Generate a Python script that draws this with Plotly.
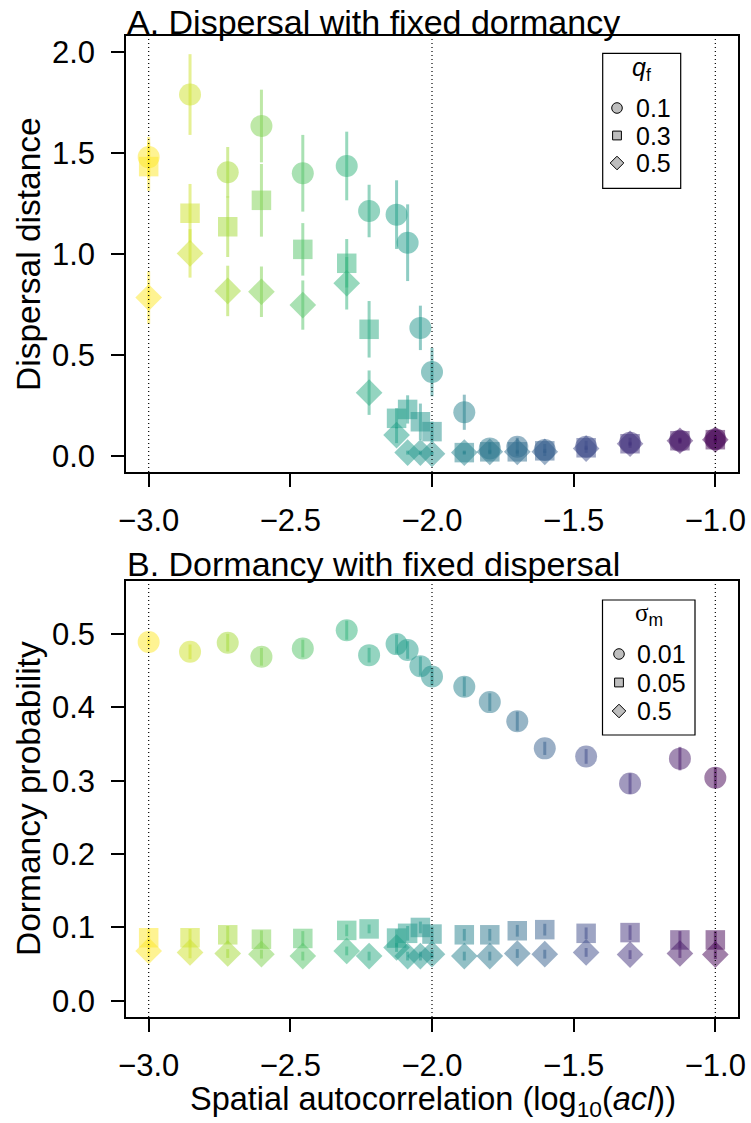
import plotly.graph_objects as go
from plotly.colors import sample_colorscale

# ---------------- data ----------------
log_acl = [-3.0, -2.854, -2.721, -2.602, -2.456, -2.301, -2.222, -2.125, -2.086, -2.041,
           -2.0, -1.886, -1.796, -1.699, -1.602, -1.456, -1.301, -1.125, -1.0]

# Panel A: dispersal distance, fixed dormancy q_f
disp_q01 = [1.48, 1.79, 1.405, 1.634, 1.40, 1.436, 1.213, 1.195, 1.056, 0.634,
            0.415, 0.216, 0.037, 0.045, 0.029, 0.045, 0.065, 0.075, 0.082]
disp_q01_err = [0.10, 0.20, 0.125, 0.18, 0.19, 0.17, 0.13, 0.17, 0.19, 0.11,
                0.12, 0.087, 0.03, 0.045, 0.03, 0.03, 0.025, 0.015, 0.02]
disp_q03 = [1.433, 1.202, 1.135, 1.266, 1.023, 0.954, 0.627, 0.186, 0.23, 0.169,
            0.12, 0.016, 0.02, 0.02, 0.025, 0.04, 0.06, 0.075, 0.08]
disp_q03_err = [0.12, 0.145, 0.15, 0.18, 0.13, 0.12, 0.14, 0.05, 0.07, 0.09,
                0.05, 0.01, 0.01, 0.01, 0.01, 0.01, 0.01, 0.01, 0.01]
disp_q05 = [0.784, 1.003, 0.817, 0.813, 0.747, 0.855, 0.313, 0.103, 0.016, 0.016,
            0.01, 0.016, 0.02, 0.02, 0.02, 0.036, 0.06, 0.075, 0.08]
disp_q05_err = [0.13, 0.12, 0.125, 0.125, 0.122, 0.13, 0.11, 0.04, 0.01, 0.01,
                0.01, 0.005, 0.005, 0.005, 0.005, 0.005, 0.005, 0.005, 0.005]

# Panel B: dormancy probability, fixed dispersal sigma_m
dorm_s001 = [0.489, 0.4755, 0.488, 0.4687, 0.480, 0.505, 0.471, 0.486, 0.478, 0.456,
             0.442, 0.428, 0.407, 0.381, 0.344, 0.333, 0.296, 0.330, 0.304]
dorm_s001_err = [0.006, 0.010, 0.012, 0.012, 0.012, 0.013, 0.010, 0.013, 0.012, 0.013,
                 0.012, 0.013, 0.012, 0.013, 0.009, 0.010, 0.014, 0.016, 0.014]
dorm_s005 = [0.086, 0.086, 0.090, 0.084, 0.085, 0.096, 0.098, 0.0855, 0.092, 0.100,
             0.091, 0.090, 0.090, 0.0955, 0.097, 0.092, 0.093, 0.083, 0.083]
dorm_s005_err = [0.012, 0.012, 0.012, 0.012, 0.010, 0.008, 0.006, 0.012, 0.010, 0.008,
                 0.010, 0.008, 0.008, 0.008, 0.008, 0.008, 0.010, 0.012, 0.012]
dorm_s05 = [0.068, 0.066, 0.0645, 0.0636, 0.061, 0.068, 0.061, 0.0727, 0.061, 0.061,
            0.0636, 0.061, 0.061, 0.0645, 0.0636, 0.066, 0.063, 0.0645, 0.063]
dorm_s05_err = [0.008, 0.008, 0.006, 0.006, 0.006, 0.006, 0.006, 0.006, 0.006, 0.006,
                0.006, 0.006, 0.006, 0.006, 0.006, 0.006, 0.006, 0.006, 0.006]

legend_a_labels = ["0.1", "0.3", "0.5"]
legend_b_labels = ["0.01", "0.05", "0.5"]
x_ticks = [-3.0, -2.5, -2.0, -1.5, -1.0]
ya_ticks = [0.0, 0.5, 1.0, 1.5, 2.0]
yb_ticks = [0.0, 0.1, 0.2, 0.3, 0.4, 0.5]
ref_lines = [-3.0, -2.0, -1.0]

# ---------------- style ----------------
W, H = 751, 1123
FONT = "Liberation Sans, Arial, Helvetica, sans-serif"
ALPHA = 0.5
BOX_L, BOX_R = 126, 738
A_TOP, A_BOT = 36, 472
B_TOP, B_BOT = 581, 1017


def px_x(p):
    return p / W


def px_y(p):
    return 1 - p / H


def colour(x):
    t = (x + 3.0) / 2.0
    c = sample_colorscale("Viridis", [1 - t], colortype="tuple")[0]
    return "rgba(%d,%d,%d,%.2f)" % (round(c[0] * 255), round(c[1] * 255), round(c[2] * 255), ALPHA)


fig = go.Figure()

SYMS = [("circle", 22), ("square", 19.5), ("diamond", 20.5)]


def add_series(xs, ys, errs, sym, size, xa, ya):
    for x, y, e in zip(xs, ys, errs):
        c = colour(x)
        fig.add_trace(go.Scatter(
            x=[x], y=[y], mode="markers", xaxis=xa, yaxis=ya, showlegend=False,
            marker=dict(symbol=sym, size=size, color=c, line=dict(width=0)),
            error_y=dict(type="data", array=[e], visible=True, color=c, thickness=3, width=0),
            hoverinfo="skip"))


for (sym, size), ys, es in zip(SYMS, [disp_q01, disp_q03, disp_q05],
                               [disp_q01_err, disp_q03_err, disp_q05_err]):
    add_series(log_acl, ys, es, sym, size, "x", "y")
for (sym, size), ys, es in zip(SYMS, [dorm_s001, dorm_s005, dorm_s05],
                               [dorm_s001_err, dorm_s005_err, dorm_s05_err]):
    add_series(log_acl, ys, es, sym, size, "x2", "y2")

# ---------------- legends (boxes, glyph shapes, labels) ----------------
legends = [
    dict(box=(602.7, 53.3, 680.7, 188.3), title="<i>q</i><sub>f</sub>", tx=641.7, ty=69,
         sx=617, lx=634, rows=[108, 135.5, 163], labels=legend_a_labels),
    dict(box=(602.5, 600, 695, 735),
         title="<span style=\"font-family:'Liberation Serif', serif\">σ</span><sub>m</sub>",
         tx=648.5, ty=614, sx=619, lx=635, rows=[654, 682.5, 711], labels=legend_b_labels),
]
annotations = []
shapes = []
GLYPH = dict(fillcolor="#BEBEBE", line=dict(color="black", width=1), layer="above",
             xref="paper", yref="paper")
for lg in legends:
    x0, y0, x1, y1 = lg["box"]
    shapes.append(dict(type="rect", xref="paper", yref="paper", x0=px_x(x0), x1=px_x(x1),
                       y0=px_y(y1), y1=px_y(y0), line=dict(color="black", width=1.2),
                       fillcolor="white", layer="below"))
    annotations.append(dict(text=lg["title"], x=px_x(lg["tx"]), y=px_y(lg["ty"]),
                            xref="paper", yref="paper", xanchor="center", yanchor="middle",
                            showarrow=False, font=dict(family=FONT, size=25, color="black")))
    cx = lg["sx"]
    for (sym, _), ry, lab in zip(SYMS, lg["rows"], lg["labels"]):
        if sym == "circle":
            r = 5.3
            shapes.append(dict(type="circle", x0=px_x(cx - r), x1=px_x(cx + r),
                               y0=px_y(ry + r), y1=px_y(ry - r), **GLYPH))
        elif sym == "square":
            r = 4.4
            shapes.append(dict(type="rect", x0=px_x(cx - r), x1=px_x(cx + r),
                               y0=px_y(ry + r), y1=px_y(ry - r), **GLYPH))
        else:
            r = 6.8
            path = "M %.5f,%.5f L %.5f,%.5f L %.5f,%.5f L %.5f,%.5f Z" % (
                px_x(cx - r), px_y(ry), px_x(cx), px_y(ry - r),
                px_x(cx + r), px_y(ry), px_x(cx), px_y(ry + r))
            shapes.append(dict(type="path", path=path, **GLYPH))
        annotations.append(dict(text=lab, x=px_x(lg["lx"]), y=px_y(ry), xref="paper", yref="paper",
                                xanchor="left", yanchor="middle", showarrow=False,
                                font=dict(family=FONT, size=25, color="black")))

# ---------------- reference dotted lines ----------------
for xr, yr in [("x", "y domain"), ("x2", "y2 domain")]:
    for xv in ref_lines:
        shapes.append(dict(type="line", xref=xr, yref=yr, x0=xv, x1=xv, y0=0, y1=1,
                           line=dict(color="black", width=1.2, dash="1px,3px"), layer="above"))

# ---------------- titles ----------------
annotations += [
    dict(text="A. Dispersal with fixed dormancy", x=px_x(125), y=px_y(22), xref="paper", yref="paper",
         xanchor="left", yanchor="middle", showarrow=False, font=dict(family=FONT, size=34, color="black")),
    dict(text="B. Dormancy with fixed dispersal", x=px_x(125), y=px_y(564), xref="paper", yref="paper",
         xanchor="left", yanchor="middle", showarrow=False, font=dict(family=FONT, size=34, color="black")),
    dict(text="Dispersal distance", x=px_x(28), y=px_y((A_TOP + A_BOT) / 2), xref="paper", yref="paper",
         textangle=-90, xanchor="center", yanchor="middle", showarrow=False,
         font=dict(family=FONT, size=33.5, color="black")),
    dict(text="Dormancy probability", x=px_x(28), y=px_y((B_TOP + B_BOT) / 2), xref="paper", yref="paper",
         textangle=-90, xanchor="center", yanchor="middle", showarrow=False,
         font=dict(family=FONT, size=33.5, color="black")),
    dict(text="Spatial autocorrelation (log<sub>10</sub>(<i>acl</i>))", x=px_x(433), y=px_y(1122.5),
         xref="paper", yref="paper", xanchor="center", yanchor="bottom", showarrow=False, borderpad=0,
         font=dict(family=FONT, size=32.5, color="black")),
]

axis_common = dict(showline=True, mirror=True, linecolor="black", linewidth=1.5, ticks="outside",
                   ticklen=13, tickwidth=1.5, tickcolor="black", showgrid=False, zeroline=False,
                   tickfont=dict(family=FONT, size=31, color="black"), tickformat=".1f")

fig.update_layout(
    width=W, height=H, margin=dict(l=0, r=0, t=0, b=0, autoexpand=False),
    paper_bgcolor="white", plot_bgcolor="white", showlegend=False,
    xaxis=dict(domain=[px_x(BOX_L), px_x(BOX_R)], range=[-3.08, -0.92], anchor="y",
               tickvals=x_ticks, ticklabelstandoff=7, **axis_common),
    yaxis=dict(domain=[px_y(A_BOT), px_y(A_TOP)], range=[-0.08, 2.08], anchor="x",
               tickvals=ya_ticks, ticklabelstandoff=10, **axis_common),
    xaxis2=dict(domain=[px_x(BOX_L), px_x(BOX_R)], range=[-3.08, -0.92], anchor="y2",
                tickvals=x_ticks, ticklabelstandoff=7, **axis_common),
    yaxis2=dict(domain=[px_y(B_BOT), px_y(B_TOP)], range=[-0.022, 0.572], anchor="x2",
                tickvals=yb_ticks, ticklabelstandoff=10, **axis_common),
    shapes=shapes, annotations=annotations,
)

fig.write_html("out.html", config={"displayModeBar": False},
               post_script="document.body.style.margin='0px';document.body.style.padding='0px';")
